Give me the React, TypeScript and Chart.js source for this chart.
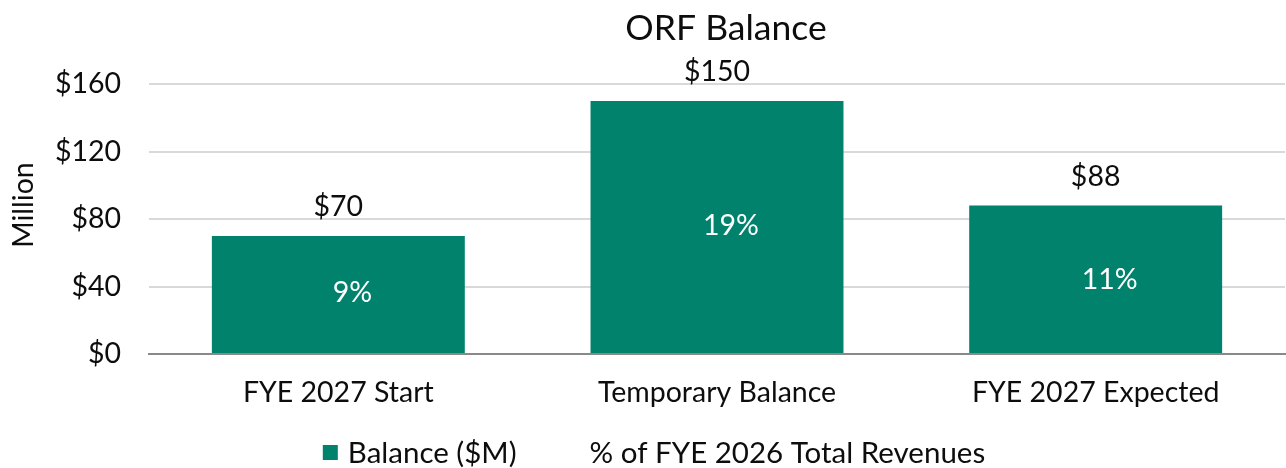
import React, { useEffect, useRef } from "react";
import { Chart, registerables } from "chart.js";

Chart.register(...registerables);

// ---- data ----
const categories = ["FYE 2027 Start", "Temporary Balance", "FYE 2027 Expected"];
const balanceValues = [70, 150, 88];
const balanceLabels = ["$70", "$150", "$88"];
const percentValues = [9, 19, 11];
const percentLabels = ["9%", "19%", "11%"];
const yTickValues = [0, 40, 80, 120, 160];
const chartTitle = "ORF Balance";
const yAxisTitle = "Million";
const seriesNames = ["Balance ($M)", "% of FYE 2026 Total Revenues"];

// ---- styles ----
const FONT = "Lato, 'Open Sans', sans-serif";
const FS = 28.5;
const TEXT = "#0d0d0d";
const BAR = "#00826C";
const GRID = "#d9d9d9";
const AXIS = "#898989";

const decorPlugin = {
  id: "decor",
  afterDatasetsDraw(chart: any) {
    const ctx = chart.ctx;
    const ca = chart.chartArea;
    ctx.save();
    ctx.textAlign = "center";
    ctx.textBaseline = "middle";
    ctx.font = `${FS}px ${FONT}`;
    const barMeta = chart.getDatasetMeta(0);
    barMeta.data.forEach((el: any, i: number) => {
      ctx.fillStyle = TEXT;
      ctx.fillText(balanceLabels[i], el.x, el.y - 29);
    });
    const pMeta = chart.getDatasetMeta(1);
    pMeta.data.forEach((el: any, i: number) => {
      ctx.fillStyle = "#ffffff";
      ctx.fillText(percentLabels[i], el.x + 14, el.y);
    });
    // title
    ctx.font = `35.5px ${FONT}`;
    ctx.fillStyle = TEXT;
    ctx.fillText(chartTitle, (ca.left + ca.right) / 2 + 9, 29);
    // y axis title
    ctx.font = `${FS}px ${FONT}`;
    ctx.save();
    ctx.translate(24, 205);
    ctx.rotate(-Math.PI / 2);
    ctx.fillText(yAxisTitle, 0, 0);
    ctx.restore();
    // legend
    ctx.font = `29.5px ${FONT}`;
    ctx.textAlign = "left";
    const box = 15;
    const gapBoxText = 10;
    const gapItems = 73;
    const w1 = ctx.measureText(seriesNames[0]).width;
    const w2 = ctx.measureText(seriesNames[1]).width;
    const total = box + gapBoxText + w1 + gapItems + w2;
    let x = chart.width / 2 + 11 - total / 2;
    const y = 453;
    ctx.fillStyle = BAR;
    ctx.fillRect(x, y - 8, box, box);
    x += box + gapBoxText;
    ctx.fillStyle = TEXT;
    ctx.fillText(seriesNames[0], x, y);
    x += w1 + gapItems;
    ctx.fillText(seriesNames[1], x, y);
    ctx.restore();
  },
};

export default function App() {
  const ref = useRef<HTMLCanvasElement | null>(null);

  useEffect(() => {
    document.body.style.margin = "0";
    const canvas = ref.current;
    if (!canvas) return;
    const chart = new Chart(canvas, {
      type: "bar",
      data: {
        labels: categories,
        datasets: [
          {
            type: "bar",
            label: seriesNames[0],
            data: balanceValues,
            backgroundColor: BAR,
            borderWidth: 0,
            categoryPercentage: 1,
            barPercentage: 0.668,
            yAxisID: "y",
            order: 2,
          },
          {
            type: "line",
            label: seriesNames[1],
            data: percentValues,
            showLine: false,
            pointRadius: 0,
            borderColor: "transparent",
            backgroundColor: "transparent",
            yAxisID: "y2",
            order: 1,
          } as any,
        ],
      },
      options: {
        animation: false,
        responsive: true,
        maintainAspectRatio: false,
        layout: { padding: { left: 0, right: 1, top: 84, bottom: 54 } },
        plugins: {
          legend: { display: false },
          title: { display: false },
          tooltip: { enabled: false },
        },
        scales: {
          x: {
            grid: { display: false, drawTicks: false },
            border: { display: true, color: AXIS, width: 2 },
            ticks: {
              color: TEXT,
              font: { family: FONT, size: FS },
              padding: 22,
              maxRotation: 0,
              autoSkip: false,
            },
            afterFit(scale: any) {
              scale.height = 60;
            },
          },
          y: {
            min: 0,
            max: 160,
            afterBuildTicks(scale: any) {
              scale.ticks = yTickValues.map((v) => ({ value: v }));
            },
            grid: { color: GRID, lineWidth: 2, drawTicks: false },
            border: { display: false },
            ticks: {
              color: TEXT,
              font: { family: FONT, size: FS },
              padding: 28,
              callback: (v: any) => `$${v}`,
            },
            afterFit(scale: any) {
              scale.width = 149;
            },
          },
          y2: {
            display: false,
            min: 0,
            max: 40,
          },
        },
      },
      plugins: [decorPlugin],
    });
    return () => chart.destroy();
  }, []);

  return (
    <div style={{ width: 1286, height: 468, position: "relative" }}>
      <canvas ref={ref} />
    </div>
  );
}
